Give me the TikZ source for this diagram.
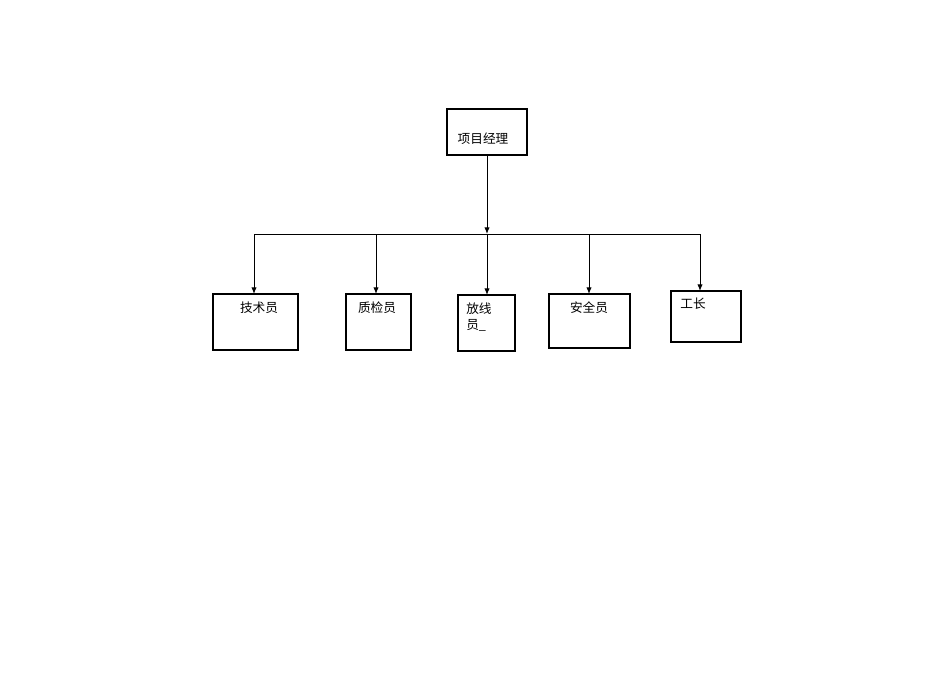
\documentclass[tikz,border=0pt]{standalone}
\usepackage{fontspec}
\usetikzlibrary{arrows.meta}
\newfontfamily\cjk{Noto Sans CJK SC}
\begin{document}
\begin{tikzpicture}[x=0.75pt,y=-0.75pt,
  box/.style={draw,line width=0.8pt,inner sep=0pt},
  lbl/.style={font=\cjk\fontsize{9.5}{11}\selectfont,inner sep=0pt},
  conn/.style={line width=0.7pt,-{Latex[length=5pt,width=4pt]}}]
\useasboundingbox (0,0) rectangle (950,672);
\draw[box] (447,109) rectangle (527,155); \coordinate (pm) at (487,155);
\node[lbl] (tpm) at (483,139) {项目经理};
\draw[box] (213,294) rectangle (298,350); \coordinate (b1) at (254,294);
\node[lbl] (t1) at (259,308) {技术员};
\draw[box] (346,294) rectangle (411,350); \coordinate (b2) at (376,294);
\node[lbl] (t2) at (377,308) {质检员};
\draw[box] (458,295) rectangle (515,351); \coordinate (b3) at (487,295);
\node[lbl,anchor=west] (t3a) at (466,309) {放线};
\node[lbl,anchor=west] (t3b) at (466,325) {员\_};
\draw[box] (549,294) rectangle (630,348); \coordinate (b4) at (589,294);
\node[lbl] (t4) at (589,308) {安全员};
\draw[box] (671,291) rectangle (741,342); \coordinate (b5) at (700,291);
\node[lbl] (t5) at (693,304) {工长};
\coordinate (j) at (487,234);
\coordinate (l) at (254,234);
\coordinate (r) at (700,234);
\draw[line width=0.7pt] (l) -- (r);
\draw[conn] (pm) -- (j);
\draw[conn] (l) -- (b1);
\draw[conn] (376,234) -- (b2);
\draw[conn] (j) -- (b3);
\draw[conn] (589,234) -- (b4);
\draw[conn] (r) -- (b5);
\end{tikzpicture}
\end{document}
